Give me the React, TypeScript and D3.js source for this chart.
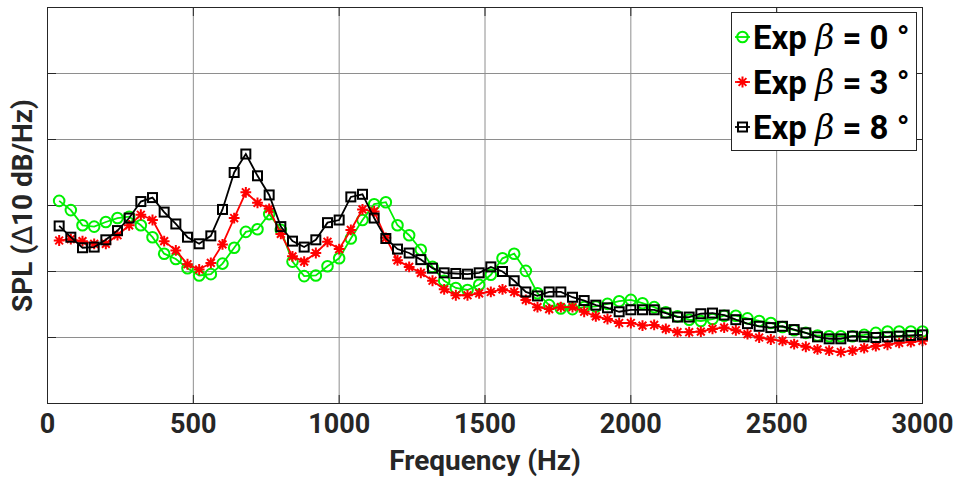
import React from 'react';
import * as d3 from 'd3';

const FREQ = [
  40, 80, 120, 160, 200, 240, 280, 320, 360, 400, 440, 480, 520, 560, 600,
  640, 680, 720, 760, 800, 840, 880, 920, 960, 1000, 1040, 1080, 1120, 1160, 1200,
  1240, 1280, 1320, 1360, 1400, 1440, 1480, 1520, 1560, 1600, 1640, 1680, 1720, 1760, 1800,
  1840, 1880, 1920, 1960, 2000, 2040, 2080, 2120, 2160, 2200, 2240, 2280, 2320, 2360, 2400,
  2440, 2480, 2520, 2560, 2600, 2640, 2680, 2720, 2760, 2800, 2840, 2880, 2920, 2960, 3000,
];

const BETA0 = [
  30.7, 29.3, 27.0, 26.8, 27.5, 28.1, 28.3, 27.0, 25.2, 22.7, 21.9, 20.5, 19.4, 19.6, 21.2,
  23.6, 26.0, 26.4, 28.7, 26.3, 21.5, 19.3, 19.4, 20.8, 22.0, 25.0, 27.8, 30.2, 30.5, 27.0,
  25.5, 23.3, 20.7, 18.6, 17.5, 17.2, 18.0, 19.5, 22.0, 22.7, 20.1, 16.7, 14.9, 14.4, 14.3,
  14.6, 14.7, 15.1, 15.5, 15.7, 15.2, 14.6, 13.8, 13.2, 12.7, 12.5, 12.8, 13.3, 13.3, 12.9,
  12.5, 12.2, 11.6, 11.1, 10.7, 10.3, 10.2, 10.2, 10.2, 10.4, 10.7, 10.9, 10.9, 10.9, 10.9,
];

const BETA3 = [
  24.7, 24.9, 24.6, 24.2, 24.2, 25.5, 27.0, 28.6, 27.8, 24.6, 23.2, 21.1, 20.3, 21.3, 24.1,
  28.1, 32.0, 30.4, 29.5, 25.7, 22.3, 21.5, 22.8, 24.5, 23.4, 26.3, 29.4, 29.1, 25.1, 21.7,
  20.7, 19.8, 18.6, 17.3, 16.4, 16.4, 16.7, 16.9, 17.3, 16.9, 15.7, 14.6, 14.3, 14.6, 14.6,
  13.9, 13.2, 12.8, 12.2, 12.2, 11.8, 11.9, 11.3, 10.8, 10.8, 10.9, 11.3, 11.5, 11.1, 10.5,
  10.0, 9.7, 9.5, 9.0, 8.6, 8.2, 8.0, 7.8, 8.0, 8.4, 8.7, 8.9, 9.2, 9.3, 9.5,
];

const BETA8 = [
  26.9, 25.2, 23.6, 23.7, 24.8, 26.2, 28.1, 30.6, 31.2, 29.0, 27.2, 25.2, 24.2, 25.4, 29.4,
  35.0, 37.8, 34.5, 31.6, 26.8, 24.6, 23.7, 24.8, 27.4, 27.8, 31.3, 31.7, 28.1, 25.0, 23.4,
  22.8, 21.8, 20.5, 19.8, 19.7, 19.6, 19.8, 20.7, 20.0, 18.6, 16.9, 16.3, 16.9, 16.9, 16.1,
  15.6, 14.9, 14.5, 13.9, 14.2, 14.2, 14.2, 13.7, 13.1, 13.1, 13.6, 13.7, 13.4, 12.7, 12.1,
  11.7, 11.5, 11.7, 11.2, 10.7, 10.1, 9.8, 9.8, 10.2, 10.1, 10.0, 10.1, 10.2, 10.3, 10.4,
];

const X_TICKS = [0, 500, 1000, 1500, 2000, 2500, 3000];
const Y_TICKS = [0, 10, 20, 30, 40, 50, 60];
const LEGEND_ANGLES = ['0', '3', '8'];

const W = 955;
const H = 479;
const PL = 47.5, PR = 922.5, PT = 7.5, PB = 403.5;

type Kind = 'circle' | 'star' | 'square';

const SERIES: { name: string; values: number[]; color: string; kind: Kind }[] = [
  { name: LEGEND_ANGLES[0], values: BETA0, color: '#00f000', kind: 'circle' },
  { name: LEGEND_ANGLES[1], values: BETA3, color: '#ff0000', kind: 'star' },
  { name: LEGEND_ANGLES[2], values: BETA8, color: '#000000', kind: 'square' },
];

function Marker({ kind, cx, cy, color }: { kind: Kind; cx: number; cy: number; color: string }) {
  if (kind === 'circle') {
    return <circle cx={cx} cy={cy} r={5.3} fill="none" stroke={color} strokeWidth={2} />;
  }
  if (kind === 'square') {
    const s = 4.5;
    return <rect x={cx - s} y={cy - s} width={2 * s} height={2 * s} fill="none" stroke={color} strokeWidth={2} />;
  }
  const r = 5.4;
  const d = r * 0.72;
  const p = `M${cx - r},${cy}L${cx + r},${cy}M${cx},${cy - r}L${cx},${cy + r}M${cx - d},${cy - d}L${cx + d},${cy + d}M${cx - d},${cy + d}L${cx + d},${cy - d}`;
  return <path d={p} stroke={color} strokeWidth={2} fill="none" />;
}

export default function App() {
  const x = d3.scaleLinear().domain([0, 3000]).range([PL, PR]);
  const y = d3.scaleLinear().domain([0, 60]).range([PB, PT]);
  const line = d3
    .line<[number, number]>()
    .x((d) => x(d[0]))
    .y((d) => y(d[1]));

  const font = 'Roboto, "Noto Sans", Arial, sans-serif';
  const axisColor = '#262626';
  const gridColor = '#8e8e8e';
  const tickLen = 8.5;

  const legX = 731.5, legY = 12.5, legW = 185, legH = 138;
  const rowY = [37, 82, 127];

  return (
    <svg
      width={W}
      height={H}
      style={{ position: 'absolute', left: 0, top: 0, background: '#fff' }}
      xmlns="http://www.w3.org/2000/svg"
    >
      <rect x={0} y={0} width={W} height={H} fill="#fff" />
      {X_TICKS.map((t) => (
        <line key={'gx' + t} x1={x(t)} x2={x(t)} y1={PT} y2={PB} stroke={gridColor} strokeWidth={1} />
      ))}
      {Y_TICKS.map((t) => (
        <line key={'gy' + t} x1={PL} x2={PR} y1={y(t)} y2={y(t)} stroke={gridColor} strokeWidth={1} />
      ))}
      {SERIES.map((s) => {
        const pts: [number, number][] = FREQ.map((f, i) => [f, s.values[i]]);
        return (
          <g key={s.name}>
            <path d={line(pts) || ''} fill="none" stroke={s.color} strokeWidth={1.8} />
            {pts.map((p, i) => (
              <Marker key={i} kind={s.kind} cx={x(p[0])} cy={y(p[1])} color={s.color} />
            ))}
          </g>
        );
      })}
      {X_TICKS.map((t) => (
        <g key={'tx' + t}>
          <line x1={x(t)} x2={x(t)} y1={PB} y2={PB - tickLen} stroke={axisColor} strokeWidth={1} />
          <line x1={x(t)} x2={x(t)} y1={PT} y2={PT + tickLen} stroke={axisColor} strokeWidth={1} />
        </g>
      ))}
      {Y_TICKS.map((t) => (
        <g key={'ty' + t}>
          <line x1={PL} x2={PL + tickLen} y1={y(t)} y2={y(t)} stroke={axisColor} strokeWidth={1} />
          <line x1={PR} x2={PR - tickLen} y1={y(t)} y2={y(t)} stroke={axisColor} strokeWidth={1} />
        </g>
      ))}
      <rect x={PL} y={PT} width={PR - PL} height={PB - PT} fill="none" stroke={axisColor} strokeWidth={1} />
      {X_TICKS.map((t) => (
        <text
          key={'lx' + t}
          x={x(t)}
          y={432.5}
          textAnchor="middle"
          fontFamily={font}
          fontWeight="bold"
          fontSize={27}
          fill={axisColor}
        >
          {t}
        </text>
      ))}
      <text
        x={(PL + PR) / 2}
        y={470}
        textAnchor="middle"
        fontFamily={font}
        fontWeight="bold"
        fontSize={28}
        fill={axisColor}
      >
        Frequency (Hz)
      </text>
      <text
        transform={`translate(32,${(PT + PB) / 2}) rotate(-90)`}
        textAnchor="middle"
        fontFamily={font}
        fontWeight="bold"
        fontSize={28}
        fill={axisColor}
      >
        SPL (
        <tspan fontWeight="normal" fontFamily='"DejaVu Sans", sans-serif'>∆</tspan>
        10 dB/Hz)
      </text>
      <rect x={legX} y={legY} width={legW} height={legH} fill="#fff" stroke={axisColor} strokeWidth={1} />
      {SERIES.map((s, i) => (
        <g key={'leg' + s.name}>
          <line x1={735} x2={750} y1={rowY[i]} y2={rowY[i]} stroke={s.color} strokeWidth={1.8} />
          <Marker kind={s.kind} cx={742.5} cy={rowY[i]} color={s.color} />
          <text x={753} y={rowY[i] + 12} fontFamily={font} fontWeight="bold" fontSize={33} fill="#000">
            Exp{' '}
            <tspan fontFamily='"DejaVu Serif", serif' fontStyle="italic" fontWeight="normal">
              β
            </tspan>
            {' = ' + s.name + ' °'}
          </text>
        </g>
      ))}
    </svg>
  );
}
